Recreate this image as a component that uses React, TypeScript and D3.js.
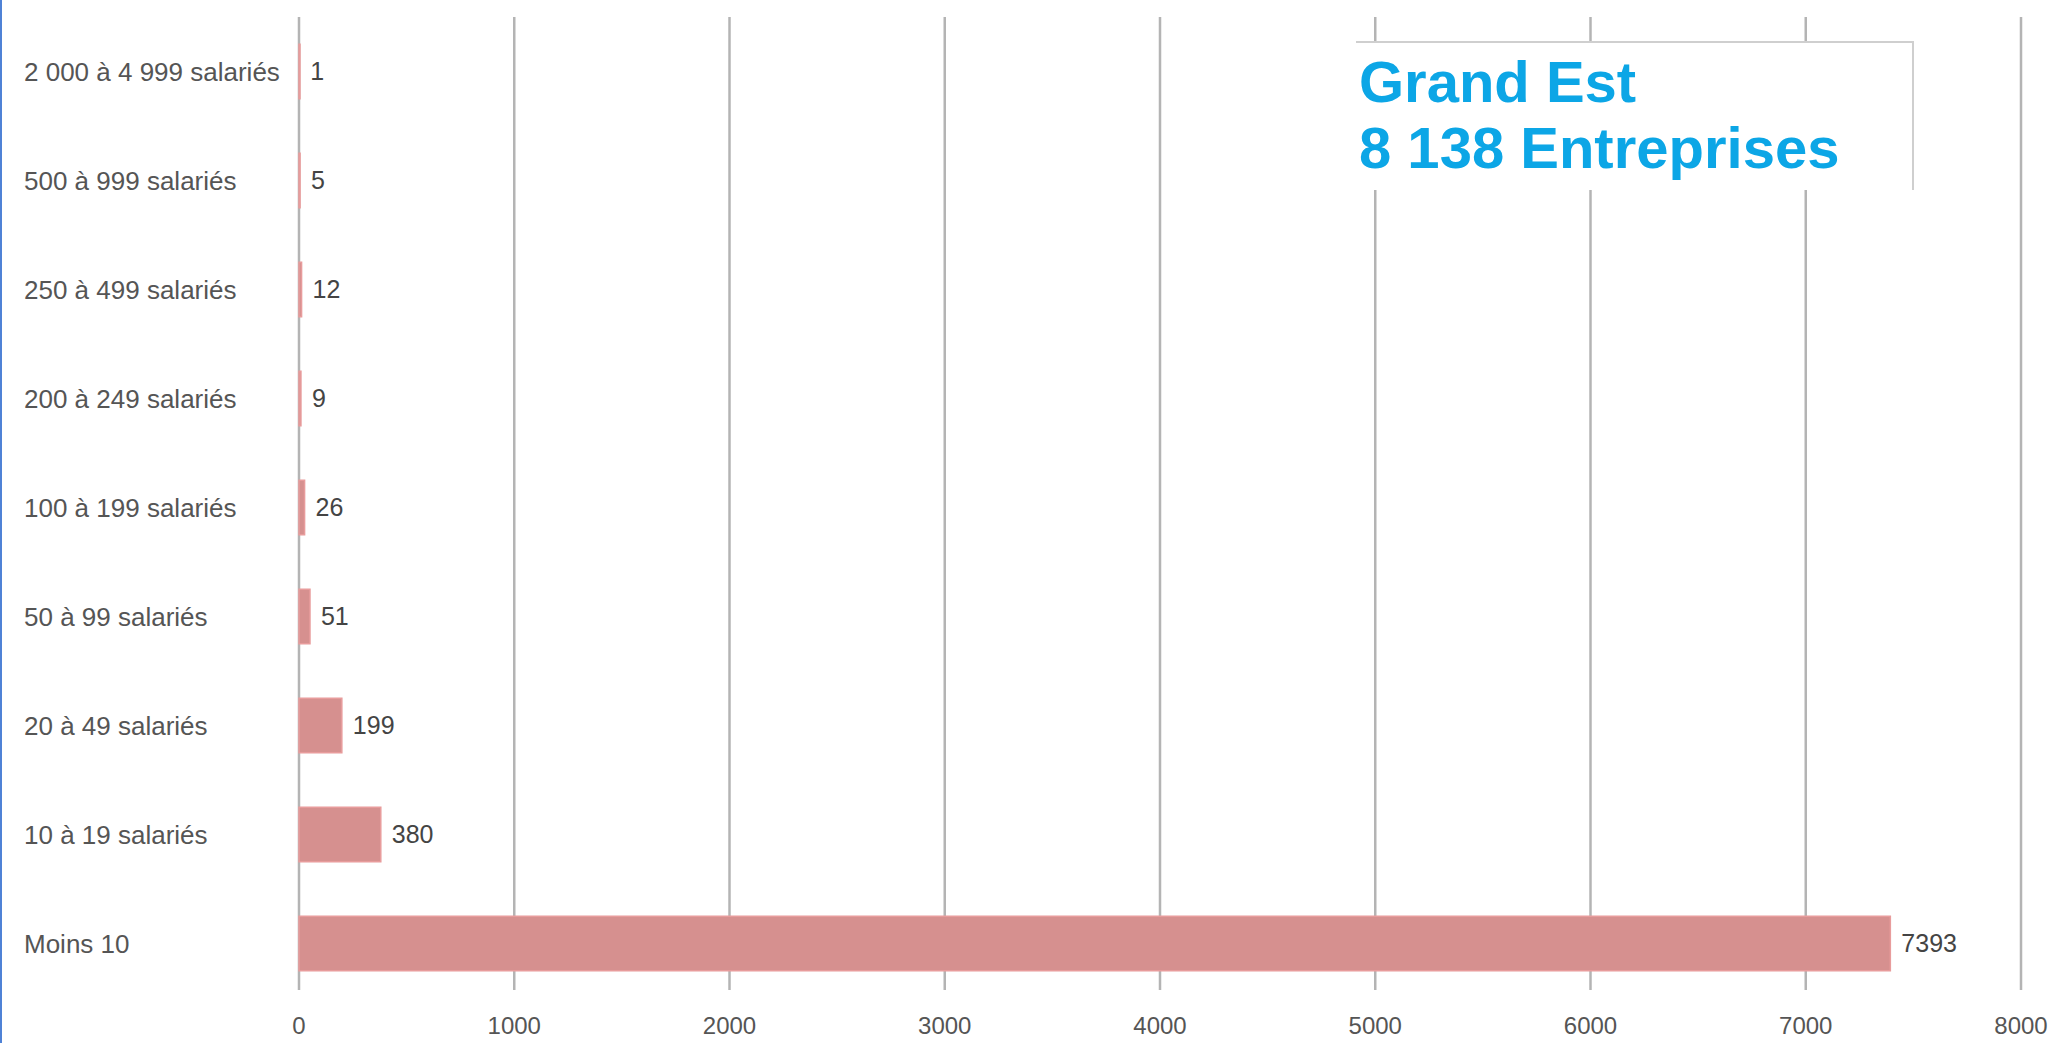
import React, { useEffect, useRef } from "react";
import * as d3 from "d3";

const categories = [
  "2 000 à 4 999 salariés",
  "500 à 999 salariés",
  "250 à 499 salariés",
  "200 à 249 salariés",
  "100 à 199 salariés",
  "50 à 99 salariés",
  "20 à 49 salariés",
  "10 à 19 salariés",
  "Moins 10",
];
const counts = [1, 5, 12, 9, 26, 51, 199, 380, 7393];
const xTicks = [0, 1000, 2000, 3000, 4000, 5000, 6000, 7000, 8000];
const titleLines = ["Grand Est", "8 138 Entreprises"];

const W = 2055;
const H = 1043;

export default function App() {
  const ref = useRef<SVGSVGElement>(null);

  useEffect(() => {
    const svg = d3.select(ref.current);
    svg.selectAll("*").remove();

    const font = "'Liberation Sans', Arial, sans-serif";
    const x = d3.scaleLinear().domain([0, 8000]).range([299, 2021]);
    const y = d3.scaleBand<string>().domain(categories).range([17, 998])
      .paddingInner(0.5).paddingOuter(0.25);
    const data = categories.map((c, i) => ({ c, v: counts[i] }));

    svg.append("rect").attr("width", W).attr("height", H).attr("fill", "#fff");
    // blue frame on the left
    svg.append("rect").attr("x", 0).attr("y", 0).attr("width", 2).attr("height", H).attr("fill", "#4f82d6");

    // vertical grid
    svg.append("g").selectAll("line").data(xTicks).join("line")
      .attr("x1", d => x(d)).attr("x2", d => x(d))
      .attr("y1", 17).attr("y2", 990)
      .attr("stroke", "#b4b4b4").attr("stroke-width", 2.5);

    // tick labels
    svg.append("g").selectAll("text").data(xTicks).join("text")
      .attr("x", d => x(d)).attr("y", 1034)
      .attr("text-anchor", "middle")
      .attr("font-family", font).attr("font-size", 24).attr("fill", "#555")
      .text(d => d);

    // bars
    svg.append("g").selectAll("rect").data(data).join("rect")
      .attr("x", x(0)).attr("y", d => y(d.c)!)
      .attr("width", d => Math.max(1, x(d.v) - x(0)))
      .attr("height", y.bandwidth())
      .attr("fill", "#d6908f").attr("stroke", "#e89c9c").attr("stroke-width", 1.5);

    // value labels
    svg.append("g").selectAll("text").data(data).join("text")
      .attr("x", d => x(d.v) + 11).attr("y", d => y(d.c)! + y.bandwidth() / 2)
      .attr("dy", "0.35em")
      .attr("font-family", font).attr("font-size", 25).attr("fill", "#444")
      .text(d => d.v);

    // category labels
    svg.append("g").selectAll("text").data(data).join("text")
      .attr("x", 24).attr("y", d => y(d.c)! + y.bandwidth() / 2)
      .attr("dy", "0.35em")
      .attr("font-family", font).attr("font-size", 26).attr("fill", "#555")
      .text(d => d.c);

    // title box
    const box = svg.append("g");
    box.append("rect").attr("x", 1356).attr("y", 42).attr("width", 557).attr("height", 148).attr("fill", "#fff");
    box.append("path").attr("d", "M1356,42H1913V190").attr("fill", "none").attr("stroke", "#cfcfcf").attr("stroke-width", 2);
    box.selectAll("text").data(titleLines).join("text")
      .attr("x", 1359).attr("y", (d, i) => 102 + i * 66)
      .attr("font-family", font).attr("font-weight", "bold").attr("font-size", 58)
      .attr("fill", "#0ca6e6")
      .text(d => d);
  }, []);

  return (
    <svg ref={ref} width={W} height={H}
      style={{ position: "absolute", left: 0, top: 0, display: "block" }} />
  );
}
